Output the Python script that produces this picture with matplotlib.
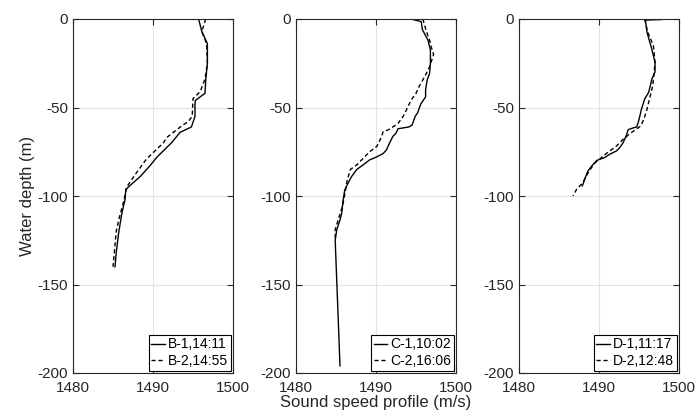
import matplotlib.pyplot as plt

plt.rcParams['font.family'] = ['Liberation Sans', 'DejaVu Sans']
plt.rcParams['axes.unicode_minus'] = False

# station B
b1_speed = [1495.7, 1496.1, 1496.8, 1496.8, 1496.6, 1496.5, 1495.3, 1495.25, 1495.25, 1494.8,
            1493.4, 1492.3, 1490.5, 1489.6, 1488.4, 1486.9, 1486.6, 1486.5, 1486.1, 1485.7,
            1485.4, 1485.25]
b1_depth = [0, -7, -14, -25, -34, -42, -46, -48, -55, -61,
            -64, -70, -78, -83, -89, -95, -96.5, -102, -110, -121,
            -132, -140]
b2_speed = [1496.6, 1496.1, 1496.7, 1496.8, 1496.5, 1495.9, 1495.0, 1494.9, 1494.4, 1493.7,
            1491.7, 1491.3, 1489.2, 1487.75, 1486.7, 1486.4, 1485.8, 1485.4, 1485.0]
b2_depth = [0, -7, -14, -25, -34, -41, -45, -55, -58, -60,
            -67, -70, -79, -88, -95, -102, -112, -120, -140]

# station C
c1_speed = [1494.4, 1495.65, 1495.8, 1496.5, 1496.8, 1496.8, 1496.7, 1496.4, 1496.2, 1496.2,
            1495.9, 1495.6, 1495.2, 1494.9, 1494.5, 1494.1, 1492.75, 1492.5, 1492.1, 1491.7,
            1491.3, 1490.9, 1490.05, 1489.2, 1488.4, 1487.6, 1486.95, 1486.5, 1486.1, 1485.9,
            1485.7, 1485.5, 1485.1, 1484.9, 1485.5]
c1_depth = [0, -1.5, -6, -12, -17.5, -25, -30.7, -34.4, -40, -44,
            -46, -48, -53, -55, -60, -61, -62, -64.5, -66.4, -70,
            -74, -76, -78, -79.6, -82.4, -85, -89, -92.8, -96.5, -102,
            -110, -113.5, -119, -125, -196]
c2_speed = [1495.85, 1496.3, 1496.7, 1496.9, 1497.2, 1496.7, 1496.3, 1495.85, 1495.4, 1495.0,
            1494.4, 1493.8, 1493.4, 1492.75, 1492.1, 1491.5, 1490.9, 1490.7, 1490.1, 1489.2,
            1488.4, 1487.6, 1486.8, 1486.4, 1486.2, 1485.8, 1485.4, 1484.9, 1484.9]
c2_depth = [0, -7, -12, -15.7, -20, -27, -30.7, -34.4, -38, -42,
            -45.7, -51.4, -55, -59, -61, -62.7, -63.6, -66.4, -72, -75,
            -78.7, -82.4, -85, -91, -96.5, -106, -111.6, -119, -125]

# station D
d1_speed = [1497.8, 1495.8, 1496.0, 1496.6, 1497.0, 1497.0, 1496.6, 1496.4, 1496.2, 1495.7,
            1495.3, 1495.1, 1494.9, 1494.7, 1494.3, 1493.65, 1493.4, 1493.0, 1492.6, 1492.2,
            1491.35, 1490.7, 1490.1, 1489.7, 1489.1, 1488.6, 1488.2, 1488.0, 1487.9]
d1_depth = [-0.3, -0.6, -7.5, -17, -24.5, -30, -34, -38, -41.5, -45.3,
            -51, -55, -58.5, -61, -61.5, -62.5, -66, -70, -72.6, -74.5,
            -76.4, -78.3, -79.2, -80, -83, -86, -90.6, -93.4, -94.3]
d2_speed = [1495.7, 1496.1, 1496.8, 1497.0, 1496.9, 1496.7, 1496.4, 1496.0, 1495.6, 1495.2,
            1494.6, 1494.0, 1493.0, 1492.2, 1491.35, 1490.5, 1490.1, 1489.5, 1488.9, 1488.4,
            1488.0, 1487.6, 1487.2, 1486.75]
d2_depth = [0, -7.5, -15, -24.5, -30, -38, -43.5, -51, -56.8, -60.5,
            -62.4, -64.3, -68, -71.7, -74.5, -77.4, -79.2, -81.3, -85, -88.7,
            -92.5, -94.3, -96.2, -100]

panels = [
    (b1_speed, b1_depth, b2_speed, b2_depth, 'B-1,14:11', 'B-2,14:55'),
    (c1_speed, c1_depth, c2_speed, c2_depth, 'C-1,10:02', 'C-2,16:06'),
    (d1_speed, d1_depth, d2_speed, d2_depth, 'D-1,11:17', 'D-2,12:48'),
]

fig = plt.figure(figsize=(6.99, 4.2), dpi=100)
lefts = [73, 296, 519]
axes = []
for i, (s1, d1, s2, d2, lab1, lab2) in enumerate(panels):
    ax = fig.add_axes([lefts[i] / 699, (420 - 373) / 420, 160 / 699, 354 / 420])
    ax.plot(s1, d1, color='black', lw=1.0, label=lab1)
    ax.plot(s2, d2, color='black', lw=1.0, ls=(0, (3, 2)), label=lab2)
    ax.set_xlim(1480, 1500)
    ax.set_ylim(-200, 0)
    ax.set_xticks([1480, 1490, 1500])
    ax.set_yticks([-200, -150, -100, -50, 0])
    ax.grid(True, color='#e3e3e3', lw=0.8)
    ax.set_axisbelow(True)
    ax.tick_params(direction='in', length=4, top=True, right=True, labelsize=11,
                   color='#262626', labelcolor='#262626')
    ax.tick_params(axis='x', pad=6)
    for sp in ax.spines.values():
        sp.set_color('#262626')
        sp.set_linewidth(0.8)
    leg = ax.legend(loc='lower right', fontsize=10, handlelength=1.0, handletextpad=0.2,
                    borderpad=0.2, labelspacing=0.2, borderaxespad=0.15, fancybox=False,
                    framealpha=1, edgecolor='black')
    leg.get_frame().set_linewidth(0.8)
    axes.append(ax)

axes[0].set_ylabel('Water depth (m)', fontsize=12, color='#262626', labelpad=2)
axes[1].set_xlabel('Sound speed profile (m/s)', fontsize=12, color='#262626', labelpad=0)

fig.savefig('out.png', dpi=100)
